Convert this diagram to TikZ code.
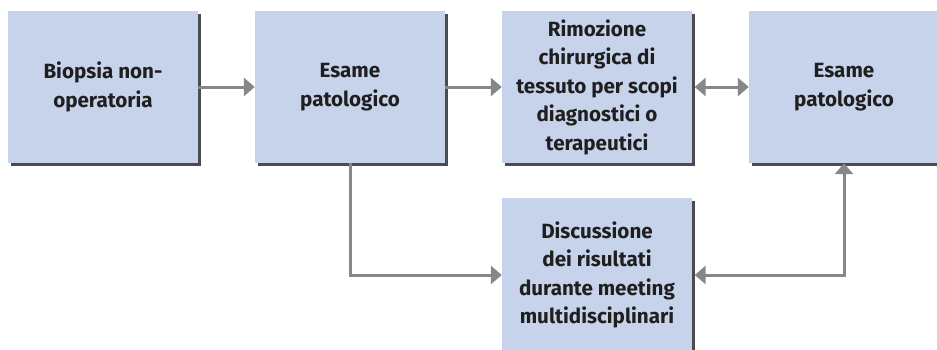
\documentclass[tikz,border=0pt]{standalone}
\usepackage{fontspec}
\setmainfont{Fira Sans}
\usepackage{tikz}
\usetikzlibrary{arrows.meta,shadows}
\definecolor{boxblue}{HTML}{C7D3EA}
\definecolor{linegray}{HTML}{85878A}
\tikzset{
  box/.style={fill=boxblue, minimum width=190pt, minimum height=152pt, align=center,
    font=\bfseries\fontsize{20.6}{28.5}\selectfont, text=black!88,
    drop shadow={shadow xshift=2.5pt, shadow yshift=-2.5pt, fill=black!70, opacity=1}},
  link/.style={draw=linegray, line width=3pt, -{Triangle[length=11pt,width=18pt]}},
  twoway/.style={link, {Triangle[length=11pt,width=18pt]}-{Triangle[length=11pt,width=18pt]}}
}

\begin{document}
\begin{tikzpicture}[x=1pt,y=1pt]
\useasboundingbox (0,0) rectangle (937,-349);

\node[box] (biopsia) at (103,-87) {Biopsia non-\\operatoria};
\node[box] (esame) at (350,-87) {Esame\\patologico};
\node[box] (rimozione) at (597,-87) {Rimozione\\chirurgica di\\tessuto per scopi\\diagnostici o\\terapeutici};
\node[box] (esame2) at (844,-87) {Esame\\patologico};
\node[box, minimum height=154pt] (discussione) at (597,-275) {Discussione\\dei risultati\\durante meeting\\multidisciplinari};

\draw[link] (biopsia) -- (esame);
\draw[link] (esame) -- (rimozione);
\draw[twoway] ([xshift=2.5pt]rimozione.east) -- (esame2.west);
\draw[link] (esame.south) |- (discussione.west);
\draw[twoway] ([xshift=2.5pt]discussione.east) -| (esame2.south);
\end{tikzpicture}
\end{document}
